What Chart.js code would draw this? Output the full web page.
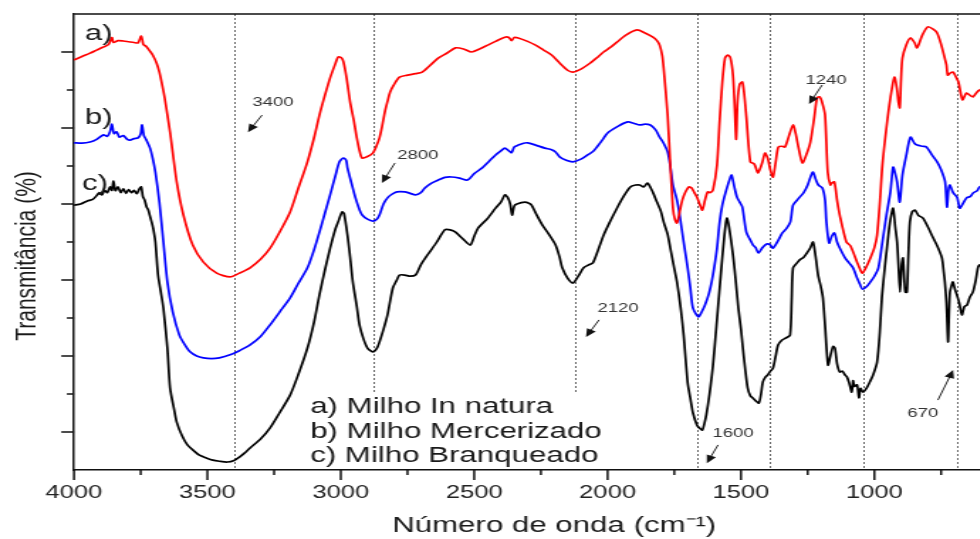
<!DOCTYPE html>
<html>
<head>
<meta charset="utf-8">
<script src="https://cdn.jsdelivr.net/npm/chart.js@4.4.1/dist/chart.umd.min.js"></script>
<style>
  html, body { margin: 0; padding: 0; background: #fff; overflow: hidden; }
  #wrap { width: 980px; height: 539px; overflow: hidden; position: relative; }
  /* the original figure is stretched sideways, so the canvas is too */
  #ftir { position: absolute; left: 0; top: 0; transform: scaleX(1.42); transform-origin: 0 0; }
</style>
</head>
<body>
<div id="wrap"><canvas id="ftir" width="775" height="539"></canvas></div>
<script>
// a) Milho In natura (red)
const redWave = [4000,3970,3940,3915,3890,3870,3858,3852,3835,3815,3795,3775,3760,3748,3740,3730,3715,3705,3690,3680,3670,3660,3640,3615,3590,3555,3515,3465,3415,3380,3340,3300,3265,3230,3190,3160,3125,3100,3080,3060,3040,3020,3010,2998,2990,2978,2965,2950,2940,2928,2920,2900,2880,2865,2855,2845,2835,2825,2815,2800,2780,2750,2720,2695,2665,2635,2600,2570,2540,2510,2480,2450,2420,2385,2370,2360,2350,2335,2300,2270,2240,2210,2180,2150,2130,2100,2065,2040,2015,1990,1965,1930,1890,1860,1830,1815,1805,1795,1790,1775,1765,1755,1748,1740,1730,1720,1710,1695,1685,1675,1665,1655,1645,1635,1625,1615,1605,1590,1580,1570,1560,1550,1540,1530,1524,1518,1513,1505,1495,1488,1480,1465,1450,1437,1430,1420,1410,1400,1390,1380,1370,1360,1345,1335,1320,1305,1295,1285,1270,1255,1240,1225,1215,1205,1195,1185,1175,1165,1160,1150,1140,1130,1105,1090,1065,1055,1045,1030,1015,1000,990,980,970,955,940,925,915,910,905,900,895,880,865,850,840,820,800,780,765,750,735,730,725,715,705,695,685,670,655,640,630,615,605,580,560];
const redT = [10.79,10.88,10.97,11.05,11.13,11.2,11.38,11.25,11.3,11.29,11.27,11.25,11.24,11.42,11.2,11.15,11.02,10.92,10.7,10.47,10.15,9.79,8.89,7.58,6.71,5.92,5.47,5.18,5.08,5.18,5.32,5.55,5.84,6.25,6.79,7.4,8.11,8.75,9.34,9.85,10.32,10.7,10.87,10.85,10.74,10.3,9.68,9.15,8.74,8.35,8.21,8.25,8.34,8.55,8.74,9.05,9.42,9.7,9.95,10.15,10.34,10.39,10.43,10.47,10.65,10.84,10.98,11.11,11.08,11.0,11.08,11.18,11.28,11.39,11.38,11.3,11.38,11.37,11.28,11.18,11.05,10.92,10.71,10.52,10.47,10.55,10.71,10.85,11.0,11.12,11.26,11.45,11.58,11.5,11.39,11.3,11.18,10.9,10.58,9.34,8.03,6.89,6.6,6.5,6.79,7.1,7.29,7.45,7.42,7.3,7.18,7.0,6.84,7.1,7.32,7.3,7.37,8.03,9.2,10.21,10.84,10.92,10.85,10.39,9.6,8.7,9.7,10.15,10.21,9.9,9.3,8.11,8.05,7.82,7.9,8.1,8.34,8.21,7.9,7.71,8.1,8.5,8.52,8.5,8.8,9.08,8.85,8.5,8.08,8.3,8.63,9.3,9.79,9.82,9.65,9.34,7.84,7.5,7.55,7.58,7.1,6.71,6.0,5.9,5.47,5.3,5.18,5.35,5.58,5.85,6.18,7.0,8.03,9.0,9.79,10.34,10.0,9.68,9.53,10.3,10.84,11.2,11.37,11.25,11.11,11.45,11.66,11.6,11.5,11.2,10.8,10.66,10.39,10.45,10.47,10.35,10.21,9.74,9.92,9.85,9.82,9.95,10.0,10.05,10.0];

// b) Milho Mercerizado (blue)
const blueWave = [4000,3970,3940,3915,3890,3875,3865,3858,3850,3840,3830,3815,3800,3790,3775,3760,3750,3745,3738,3730,3715,3705,3695,3680,3665,3650,3630,3605,3585,3565,3540,3515,3485,3455,3415,3380,3340,3300,3265,3230,3190,3160,3125,3100,3080,3060,3040,3020,3005,2990,2980,2975,2960,2945,2930,2920,2900,2880,2865,2855,2840,2825,2810,2790,2760,2740,2720,2700,2685,2660,2635,2610,2585,2555,2525,2500,2470,2445,2420,2400,2385,2370,2360,2350,2335,2315,2300,2270,2235,2210,2195,2180,2155,2130,2100,2075,2055,2040,2020,2000,1960,1925,1900,1880,1860,1840,1820,1805,1790,1775,1765,1755,1740,1730,1715,1700,1690,1680,1660,1648,1635,1620,1610,1600,1590,1580,1570,1555,1540,1535,1525,1515,1505,1495,1480,1465,1455,1445,1435,1420,1410,1400,1390,1380,1360,1345,1330,1315,1305,1290,1280,1265,1250,1240,1230,1220,1210,1195,1185,1180,1170,1160,1150,1140,1130,1110,1095,1080,1065,1055,1045,1030,1015,1000,985,970,955,940,930,922,915,905,895,880,865,850,840,820,805,785,765,750,735,728,722,717,705,690,680,665,655,640,630,615,605,580,560];
const blueT = [8.61,8.6,8.63,8.7,8.82,8.78,8.9,9.1,8.85,8.9,8.76,8.8,8.7,8.68,8.72,8.74,8.85,9.08,8.8,8.7,8.47,8.2,7.84,7.05,6.0,4.95,4.16,3.55,3.3,3.11,3.0,2.95,2.93,2.95,3.03,3.14,3.29,3.52,3.82,4.15,4.53,4.9,5.32,5.8,6.26,6.75,7.24,7.75,8.11,8.21,8.15,7.95,7.55,7.16,6.85,6.71,6.6,6.55,6.6,6.71,7.0,7.16,7.25,7.32,7.32,7.28,7.24,7.3,7.42,7.55,7.63,7.7,7.71,7.68,7.63,7.8,7.95,8.12,8.29,8.4,8.47,8.4,8.35,8.5,8.55,8.6,8.61,8.55,8.47,8.43,8.37,8.24,8.15,8.11,8.18,8.29,8.38,8.5,8.68,8.87,9.05,9.16,9.12,9.08,9.1,9.08,8.95,8.76,8.6,8.37,8.0,7.5,7.1,6.71,6.0,5.32,4.8,4.26,4.03,4.15,4.34,4.65,4.95,5.35,5.84,6.53,6.97,7.37,7.7,7.76,7.45,7.18,7.05,6.92,6.26,6.05,5.92,5.85,5.71,5.85,5.92,5.95,5.92,5.84,6.05,6.24,6.35,6.53,6.97,7.1,7.18,7.3,7.5,7.7,7.84,7.65,7.5,7.42,7.1,6.53,5.97,6.15,6.24,6.0,5.84,5.58,5.45,5.32,5.05,4.9,4.76,4.82,4.95,5.1,5.32,6.0,6.7,7.32,7.97,7.8,7.58,7.05,7.76,8.3,8.76,8.6,8.55,8.52,8.5,8.3,8.11,7.9,7.58,6.92,7.4,7.5,7.3,7.18,6.89,7.05,7.16,7.2,7.29,7.35,7.45,7.5,7.48];

// c) Milho Branqueado (black)
const blackWave = [4000,3975,3950,3930,3915,3905,3895,3885,3875,3865,3858,3852,3845,3835,3825,3815,3805,3795,3785,3775,3765,3755,3748,3742,3735,3728,3722,3716,3710,3703,3695,3685,3675,3665,3650,3640,3625,3615,3595,3575,3550,3530,3505,3480,3455,3425,3400,3380,3360,3340,3300,3265,3230,3190,3160,3125,3100,3080,3060,3040,3020,3010,2995,2988,2975,2965,2955,2940,2930,2915,2900,2880,2865,2855,2840,2825,2805,2790,2780,2760,2740,2720,2700,2675,2640,2610,2590,2570,2545,2515,2500,2485,2450,2420,2400,2385,2375,2365,2358,2350,2340,2310,2295,2285,2265,2245,2220,2195,2180,2170,2150,2130,2110,2090,2070,2055,2035,2015,1990,1965,1940,1915,1895,1880,1865,1850,1830,1815,1800,1790,1775,1765,1750,1740,1725,1715,1700,1690,1680,1665,1655,1645,1638,1630,1618,1605,1592,1580,1570,1560,1553,1545,1530,1520,1510,1500,1493,1485,1475,1465,1455,1445,1433,1425,1418,1408,1400,1390,1380,1370,1361,1346,1330,1316,1310,1305,1290,1280,1265,1250,1240,1230,1220,1211,1200,1193,1185,1174,1165,1155,1148,1140,1130,1120,1110,1103,1095,1085,1080,1075,1065,1058,1052,1043,1030,1017,1005,990,980,972,960,953,942,930,922,915,910,904,898,893,888,884,878,873,867,858,848,835,818,800,780,765,747,740,736,730,724,720,717,711,706,698,691,682,672,663,653,642,631,620,612,605,590,570];
const blackT = [6.97,7.0,7.08,7.12,7.22,7.3,7.24,7.36,7.3,7.45,7.36,7.6,7.35,7.45,7.3,7.4,7.28,7.38,7.3,7.36,7.27,7.4,7.45,7.2,7.1,6.92,6.85,6.7,6.55,6.35,6.0,5.13,4.7,4.26,3.21,2.16,1.6,1.26,0.9,0.66,0.5,0.39,0.32,0.26,0.23,0.21,0.25,0.34,0.45,0.58,0.82,1.11,1.5,1.97,2.5,3.21,3.9,4.61,5.25,5.84,6.35,6.53,6.79,6.75,6.18,5.6,4.95,4.3,3.82,3.45,3.21,3.11,3.2,3.37,3.7,4.08,4.79,5.0,5.13,5.13,5.1,5.13,5.4,5.66,6.0,6.32,6.32,6.26,6.1,5.92,6.15,6.37,6.62,6.89,7.05,7.24,7.18,7.0,6.71,6.95,7.0,7.05,7.02,6.97,6.7,6.45,6.2,5.92,5.6,5.32,5.05,4.92,5.1,5.32,5.4,5.45,5.8,6.18,6.55,6.89,7.2,7.45,7.5,7.5,7.45,7.55,7.3,7.05,6.8,6.53,6.2,5.84,5.3,4.95,4.2,3.55,2.3,1.89,1.5,1.18,1.1,1.05,1.2,1.45,2.0,2.76,3.8,4.79,5.6,6.32,6.63,6.4,5.66,5.0,4.26,3.7,3.21,2.7,2.16,1.95,1.89,1.82,1.76,2.0,2.32,2.45,2.5,2.6,2.68,3.0,3.29,3.42,3.48,3.55,4.5,5.32,5.45,5.53,5.6,5.74,5.85,6.0,5.6,5.13,4.8,4.53,3.8,2.76,3.0,3.25,3.21,2.8,2.58,2.6,2.5,2.45,2.3,2.05,2.35,2.2,2.24,1.9,2.15,2.05,2.15,2.32,2.5,2.84,3.6,4.53,5.4,5.84,6.5,6.89,6.4,6.0,5.4,4.68,5.4,5.58,5.0,4.68,4.68,5.6,6.53,6.8,6.84,6.7,6.63,6.4,6.11,5.9,5.58,5.2,4.95,4.4,3.37,4.2,4.68,4.85,4.95,4.75,4.61,4.4,4.08,4.3,4.34,4.55,4.68,5.0,5.32,5.4,5.3,5.2];

const seriesLabels = ['a) Milho In natura', 'b) Milho Mercerizado', 'c) Milho Branqueado'];
const seriesTags = ['a)', 'b)', 'c)'];
const seriesColors = ['#ff0000', '#0000ff', '#000000'];

// labelled ticks on the wavenumber axis
const xTickValues = [4000, 3500, 3000, 2500, 2000, 1500, 1000];

// band positions marked with dotted lines (cm-1)
const bandLines = [3400, 2880, 2120, 1665, 1390, 1043, 692];

// band labels: text, text centre, arrow tail, arrow tip (cm-1, %)
const bandNotes = [
  { text: '3400', at: [3254, 9.66], from: [3295, 9.34], to: [3348, 8.89] },
  { text: '2800', at: [2711, 8.29], from: [2797, 8.08], to: [2846, 7.55] },
  { text: '2120', at: [1961, 4.26], from: [2032, 3.95], to: [2081, 3.5] },
  { text: '1600', at: [1530, 0.97], from: [1586, 0.66], to: [1628, 0.18] },
  { text: '1240', at: [1181, 10.26], from: [1196, 10.13], to: [1245, 9.63] },
  { text: '670', at: [818, 1.5], from: [762, 1.84], to: [705, 2.63] },
];

const toPoints = (w, t) => w.map((x, i) => ({ x: x, y: t[i] }));

Chart.defaults.font.family = "'Liberation Sans', Arial, sans-serif";
Chart.defaults.color = '#222';

const decor = {
  id: 'decor',
  beforeDatasetsDraw(chart) {
    const { ctx, chartArea, scales: { x } } = chart;
    ctx.save();
    ctx.strokeStyle = '#666';
    ctx.lineWidth = 1;
    ctx.setLineDash([2, 2]);
    bandLines.forEach(v => {
      const px = Math.round(x.getPixelForValue(v)) + 0.5;
      ctx.beginPath();
      ctx.moveTo(px, chartArea.top);
      ctx.lineTo(px, chartArea.bottom);
      ctx.stroke();
    });
    ctx.restore();
  },
  afterDatasetsDraw(chart) {
    const { ctx, chartArea, scales: { x, y } } = chart;
    ctx.save();

    // legend block (plain text on white)
    ctx.fillStyle = '#fff';
    const bx = x.getPixelForValue(3142), bx2 = x.getPixelForValue(1946);
    const by = y.getPixelForValue(2.05), by2 = y.getPixelForValue(0.03);
    ctx.fillRect(bx, by, bx2 - bx, by2 - by);
    ctx.fillStyle = '#1a1a1a';
    ctx.font = "22px 'Liberation Sans', Arial, sans-serif";
    ctx.textAlign = 'left';
    ctx.textBaseline = 'alphabetic';
    const legendBase = [1.5, 0.84, 0.21];
    seriesLabels.forEach((s, i) => {
      ctx.fillText(s, x.getPixelForValue(3115), y.getPixelForValue(legendBase[i]));
    });

    // curve tags
    const tagPos = [[3959, 11.32], [3959, 9.1], [3970, 7.37]];
    seriesTags.forEach((s, i) => {
      ctx.fillText(s, x.getPixelForValue(tagPos[i][0]), y.getPixelForValue(tagPos[i][1]));
    });

    // band notes with arrows
    ctx.font = "13px 'Liberation Sans', Arial, sans-serif";
    ctx.fillStyle = '#333';
    ctx.strokeStyle = '#222';
    ctx.lineWidth = 1;
    ctx.textAlign = 'center';
    ctx.textBaseline = 'middle';
    bandNotes.forEach(n => {
      ctx.fillText(n.text, x.getPixelForValue(n.at[0]), y.getPixelForValue(n.at[1]));
      const x1 = x.getPixelForValue(n.from[0]), y1 = y.getPixelForValue(n.from[1]);
      const x2 = x.getPixelForValue(n.to[0]), y2 = y.getPixelForValue(n.to[1]);
      const a = Math.atan2(y2 - y1, x2 - x1);
      ctx.beginPath();
      ctx.moveTo(x1, y1);
      ctx.lineTo(x2 - 5 * Math.cos(a), y2 - 5 * Math.sin(a));
      ctx.stroke();
      ctx.beginPath();
      ctx.moveTo(x2, y2);
      ctx.lineTo(x2 - 8 * Math.cos(a) + 3.5 * Math.sin(a), y2 - 8 * Math.sin(a) - 3.5 * Math.cos(a));
      ctx.lineTo(x2 - 8 * Math.cos(a) - 3.5 * Math.sin(a), y2 - 8 * Math.sin(a) + 3.5 * Math.cos(a));
      ctx.closePath();
      ctx.fillStyle = '#111';
      ctx.fill();
      ctx.fillStyle = '#333';
    });

    // frame top / right
    ctx.strokeStyle = '#111';
    ctx.lineWidth = 1.5;
    ctx.beginPath();
    ctx.moveTo(chartArea.left, chartArea.top);
    ctx.lineTo(chartArea.right, chartArea.top);
    ctx.lineTo(chartArea.right, chartArea.bottom);
    ctx.stroke();

    // tick marks, long and short
    for (let v = 500; v <= 4000; v += 250) {
      const px = x.getPixelForValue(v);
      ctx.beginPath();
      ctx.moveTo(px, chartArea.bottom);
      ctx.lineTo(px, chartArea.bottom + (v % 500 === 0 ? 10 : 5));
      ctx.stroke();
    }
    for (let t = 1; t <= 11; t++) {
      const py = y.getPixelForValue(t);
      ctx.beginPath();
      ctx.moveTo(chartArea.left, py);
      ctx.lineTo(chartArea.left - (t % 2 ? 9 : 5), py);
      ctx.stroke();
    }

    // y title, drawn by hand to sit where the original has it
    ctx.translate(19, 256);
    ctx.rotate(-Math.PI / 2);
    ctx.font = "21px 'Liberation Sans', Arial, sans-serif";
    ctx.fillStyle = '#1a1a1a';
    ctx.textAlign = 'center';
    ctx.textBaseline = 'middle';
    ctx.fillText('Transmitância (%)', 0, 0);
    ctx.restore();
  }
};

new Chart(document.getElementById('ftir'), {
  type: 'line',
  data: {
    datasets: [
      { label: seriesLabels[0], data: toPoints(redWave, redT), borderColor: seriesColors[0] },
      { label: seriesLabels[1], data: toPoints(blueWave, blueT), borderColor: seriesColors[1] },
      { label: seriesLabels[2], data: toPoints(blackWave, blackT), borderColor: seriesColors[2] },
    ].map(d => Object.assign(d, { borderWidth: 1.7, pointRadius: 0, tension: 0.25, fill: false })),
  },
  options: {
    responsive: false,
    animation: false,
    events: [],
    layout: { padding: { top: 14, right: 46.5, bottom: 0, left: 0 } },
    scales: {
      x: {
        type: 'linear',
        min: 400,
        max: 4000,
        reverse: true,
        afterBuildTicks: s => { s.ticks = xTickValues.map(v => ({ value: v })); },
        afterFit: s => { s.height = 69; },
        grid: { display: false, drawTicks: false },
        border: { display: true, color: '#111', width: 1.5 },
        ticks: {
          padding: 12,
          maxRotation: 0,
          autoSkip: false,
          color: '#222',
          font: { size: 18 },
          callback: v => String(v),
        },
        title: {
          display: true,
          text: 'Número de onda (cm⁻¹)',
          color: '#1a1a1a',
          font: { size: 22 },
          padding: { top: 0, bottom: 0 },
        },
      },
      y: {
        min: 0,
        max: 12,
        afterFit: s => { s.width = 52.1; },
        grid: { display: false, drawTicks: false },
        border: { display: true, color: '#111', width: 1.5 },
        ticks: { display: false, stepSize: 1 },
      },
    },
    plugins: {
      legend: { display: false },
      tooltip: { enabled: false },
    },
  },
  plugins: [decor],
});
</script>
</body>
</html>
